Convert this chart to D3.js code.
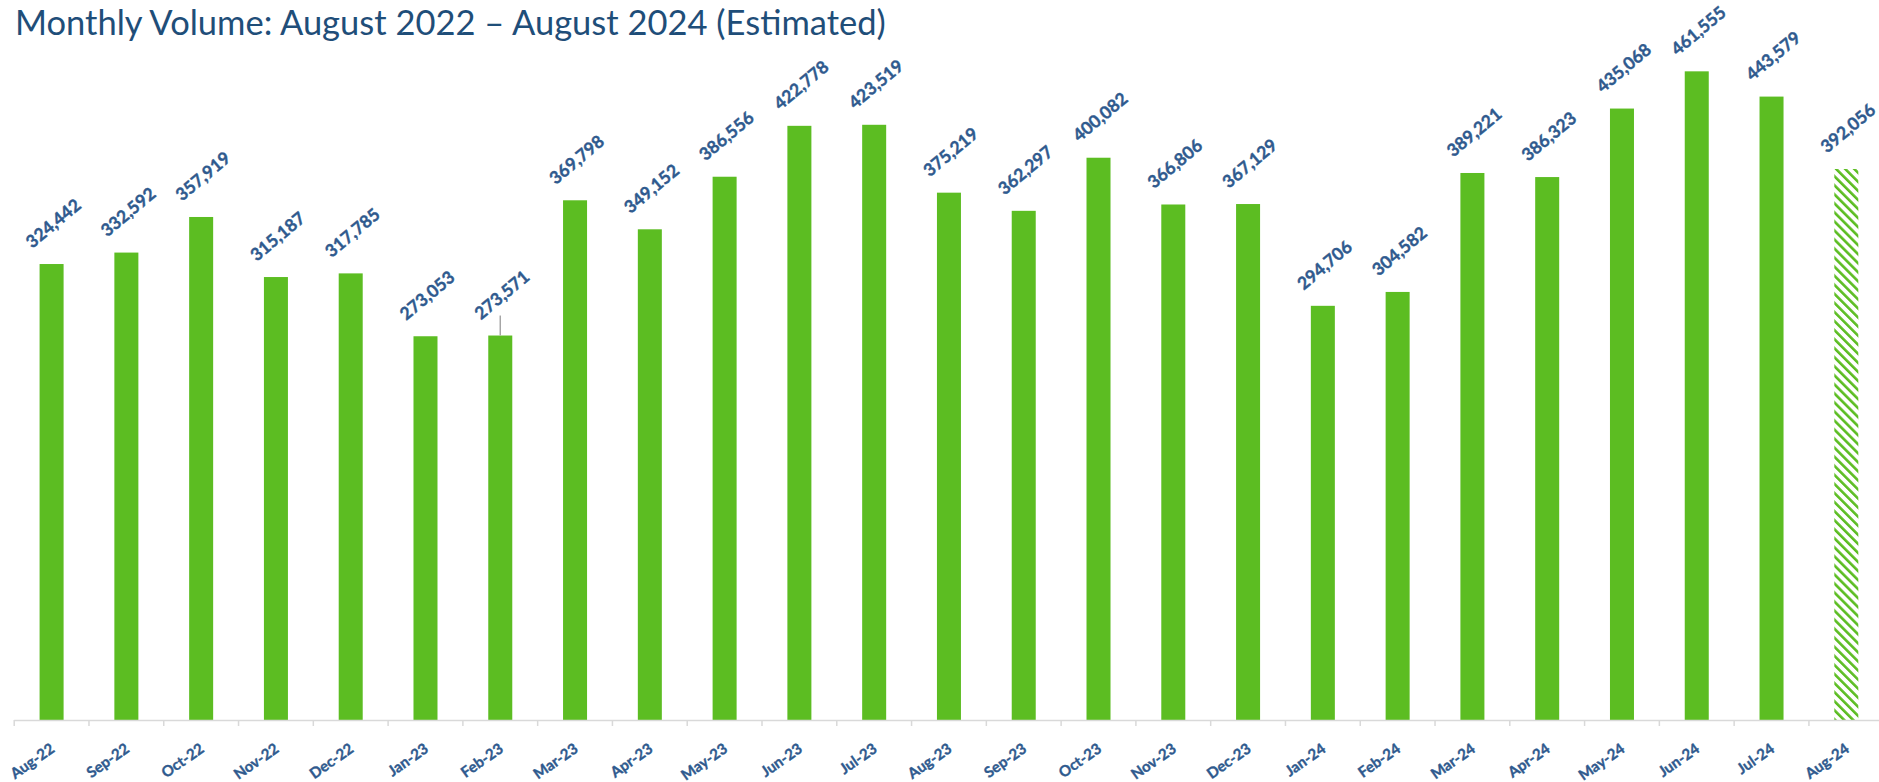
<!DOCTYPE html>
<html>
<head>
<meta charset="utf-8">
<script src="https://cdn.jsdelivr.net/npm/d3@7"></script>
<style>
  html, body { margin: 0; padding: 0; background: #ffffff; }
  svg { display: block; }
</style>
</head>
<body>
<svg id="chart" width="1879" height="782"></svg>
<script>
const months = ["Aug-22","Sep-22","Oct-22","Nov-22","Dec-22","Jan-23","Feb-23","Mar-23","Apr-23","May-23","Jun-23","Jul-23","Aug-23","Sep-23","Oct-23","Nov-23","Dec-23","Jan-24","Feb-24","Mar-24","Apr-24","May-24","Jun-24","Jul-24","Aug-24"];
const volumes = [324442,332592,357919,315187,317785,273053,273571,369798,349152,386556,422778,423519,375219,362297,400082,366806,367129,294706,304582,389221,386323,435068,461555,443579,392056];
const estimated = ["Aug-24"];
const leaderLines = ["Feb-23"];
const titleText = "Monthly Volume: August 2022 \u2013 August 2024 (Estimated)";
const yMax = 500000;

const svg = d3.select("#chart");
const left = 14.2, step = 74.78;
const baseY = 720, topY = 17.3;

const x = d3.scaleBand()
  .domain(months)
  .range([left, left + step * months.length])
  .paddingInner(0.679)
  .paddingOuter(0.3395);
const y = d3.scaleLinear().domain([0, yMax]).range([baseY, topY]);

const green = "#5CBD22";
const labelBlue = "#2F5A8E";

// hatch pattern
const defs = svg.append("defs");
const pat = defs.append("pattern")
  .attr("id", "hatch")
  .attr("patternUnits", "userSpaceOnUse")
  .attr("width", 6.4).attr("height", 6.4)
  .attr("patternTransform", "rotate(-45)");
pat.append("rect").attr("width", 6.4).attr("height", 6.4).attr("fill", "#ffffff");
pat.append("rect").attr("x", 0).attr("y", 0).attr("width", 2.6).attr("height", 6.4).attr("fill", green);

// title
svg.append("text")
  .attr("x", 15).attr("y", 35)
  .attr("font-family", "Lato, 'Open Sans', sans-serif")
  .attr("font-size", 34.5)
  .attr("fill", "#1F4E79")
  .text(titleText);

const data = months.map((m, i) => ({ m, v: volumes[i] }));

// bars
svg.append("g").selectAll("rect").data(data).join("rect")
  .attr("x", d => x(d.m))
  .attr("y", d => y(d.v))
  .attr("width", x.bandwidth())
  .attr("height", d => y(0) - y(d.v))
  .attr("fill", d => estimated.includes(d.m) ? "url(#hatch)" : green);

// leader line
svg.append("g").selectAll("line").data(data.filter(d => leaderLines.includes(d.m))).join("line")
  .attr("x1", d => x(d.m) + x.bandwidth() / 2)
  .attr("x2", d => x(d.m) + x.bandwidth() / 2)
  .attr("y1", d => y(d.v))
  .attr("y2", d => y(d.v) - 20)
  .attr("stroke", "#A6A6A6").attr("stroke-width", 1.5);

// axis line and ticks at band boundaries
const axisG = svg.append("g");
const r = x.range();
axisG.append("line")
  .attr("x1", r[0]).attr("x2", r[1])
  .attr("y1", baseY + 0.5).attr("y2", baseY + 0.5)
  .attr("stroke", "#D9D9D9").attr("stroke-width", 1.5);
const bounds = months.map(m => x(m) - (x.step() - x.bandwidth()) / 2).concat([r[1]]);
axisG.selectAll("line.tick").data(bounds).join("line")
  .attr("class", "tick")
  .attr("x1", d => d).attr("x2", d => d)
  .attr("y1", baseY).attr("y2", baseY + 6)
  .attr("stroke", "#D9D9D9").attr("stroke-width", 1.5);

// x labels
svg.append("g").selectAll("text").data(data).join("text")
  .attr("transform", d => `translate(${x(d.m) + x.bandwidth() / 2 + 4},${baseY + 31}) rotate(-35)`)
  .attr("text-anchor", "end")
  .attr("font-family", "Lato, 'Open Sans', sans-serif")
  .attr("font-weight", "bold")
  .attr("font-size", 15)
  .attr("fill", labelBlue)
  .attr("stroke", labelBlue).attr("stroke-width", 0.35)
  .text(d => d.m);

// value labels
const fmt = d3.format(",");
svg.append("g").selectAll("text").data(data).join("text")
  .attr("transform", d => `translate(${x(d.m) + x.bandwidth() / 2 + 1.5},${y(d.v) - 41}) rotate(-40)`)
  .attr("text-anchor", "middle")
  .attr("dominant-baseline", "central")
  .attr("font-family", "Lato, 'Open Sans', sans-serif")
  .attr("font-weight", "bold")
  .attr("font-size", 17.5)
  .attr("fill", labelBlue)
  .attr("stroke", labelBlue).attr("stroke-width", 0.4)
  .text(d => fmt(d.v));
</script>
</body>
</html>
